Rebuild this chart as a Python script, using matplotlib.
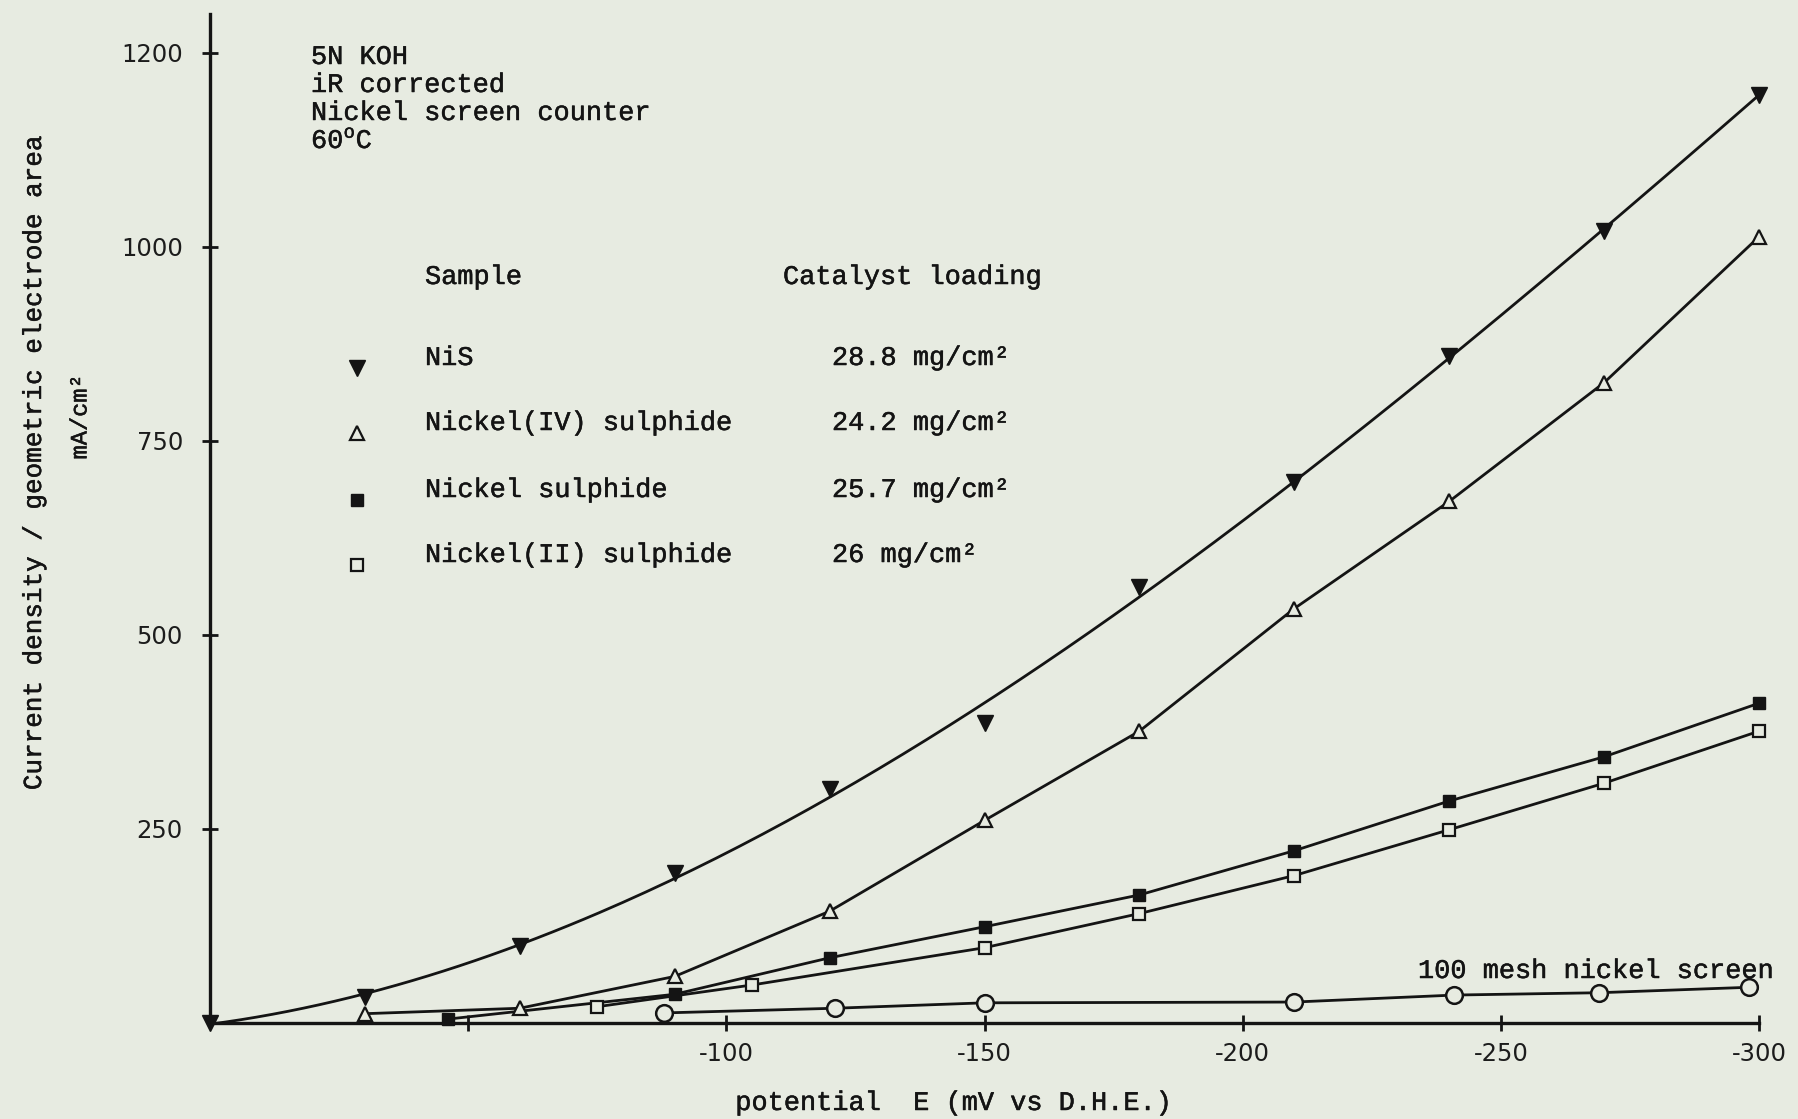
import numpy as np
import matplotlib
matplotlib.use("Agg")
import matplotlib.pyplot as plt
import matplotlib.patheffects as pe

# Current density vs potential, 5N KOH, 60 C
E_NIS = [0, -30, -60, -90, -120, -150, -180, -210, -240, -270, -300]
J_NIS = [0, 34, 99, 193, 301, 387, 562, 697, 859, 1021, 1196]

E_NI4 = [-30, -60, -90, -120, -150, -180, -210, -240, -270, -300]
J_NI4 = [12, 19, 60, 144, 261, 376, 534, 672, 825, 1013]

E_NISULF = [-46, -90, -120, -150, -180, -210, -240, -270, -300]
J_NISULF = [5, 37, 84, 124, 165, 222, 286, 343, 412]

E_NI2 = [-75, -105, -150, -180, -210, -240, -270, -300]
J_NI2 = [21, 49, 97, 141, 190, 249, 309, 376]

E_MESH = [-88, -121, -150, -210, -241, -269, -298]
J_MESH = [13, 19, 26, 27, 36, 39, 46]

samples = ["NiS", "Nickel(IV) sulphide", "Nickel sulphide", "Nickel(II) sulphide"]
loadings = ["28.8 mg/cm\u00b2", "24.2 mg/cm\u00b2", "25.7 mg/cm\u00b2", "26 mg/cm\u00b2"]

x_ticks = [-50, -100, -150, -200, -250, -300]
x_labels = ["", "-100", "-150", "-200", "-250", "-300"]
# the typed "1200" label sits where 1250 would be on the drawn scale
y_ticks = [250, 500, 750, 1000, 1250]
y_labels = ["250", "500", "750", "1000", "1200"]

BG = "#e7ebe1"
INK = "#141414"
MONO = "Liberation Mono"

plt.rcParams["mathtext.fontset"] = "custom"
plt.rcParams["mathtext.rm"] = MONO

W, H = 1798, 1119
TYPE = dict(family=MONO, fontsize=19.4, color=INK,
            path_effects=[pe.withStroke(linewidth=0.35, foreground=INK)])


def fx(x):
    return x / W


def fy(y):
    return 1 - y / H


fig = plt.figure(figsize=(W / 100, H / 100), dpi=100, facecolor=BG)
ax = fig.add_axes([fx(210), fy(1023), (1759 - 210) / W, (1023 - 14) / H])
ax.set_facecolor(BG)

# NiS curve is a smooth hand-drawn fit through the points
coef = np.polyfit(E_NIS, J_NIS, 3)
xs = np.linspace(E_NIS[0], E_NIS[-1], 200)
ax.plot(xs, np.polyval(coef, xs), color=INK, lw=2.0, zorder=2, clip_on=False)

for E, J in [(E_NI4, J_NI4), (E_NISULF, J_NISULF), (E_NI2, J_NI2), (E_MESH, J_MESH)]:
    ax.plot(E, J, color=INK, lw=2.0, zorder=2, clip_on=False)

ax.plot(E_NIS, J_NIS, ls="none", marker="v", ms=11, color=INK, zorder=3, clip_on=False)
ax.plot(E_NI4, J_NI4, ls="none", marker="^", ms=10, mfc=BG, mec=INK, mew=1.6, zorder=3,
        clip_on=False)
ax.plot(E_NISULF, J_NISULF, ls="none", marker="s", ms=9, color=INK, zorder=3, clip_on=False)
ax.plot(E_NI2, J_NI2, ls="none", marker="s", ms=9, mfc=BG, mec=INK, mew=1.6, zorder=3,
        clip_on=False)
ax.plot(E_MESH, J_MESH, ls="none", marker="o", ms=12, mfc=BG, mec=INK, mew=1.8, zorder=3,
        clip_on=False)

ax.set_xlim(0, -300)
ax.set_ylim(0, 1300)
for s in ["top", "right"]:
    ax.spines[s].set_visible(False)
for s in ["left", "bottom"]:
    ax.spines[s].set_linewidth(2.4)
    ax.spines[s].set_color(INK)

ax.set_xticks(x_ticks)
ax.set_xticklabels(x_labels)
ax.set_yticks(y_ticks)
ax.set_yticklabels(y_labels)
ax.tick_params(axis="both", direction="inout", length=11, width=2, color=INK,
               labelsize=17.5, labelcolor="#1c1c1c")
ax.tick_params(axis="y", pad=14)
ax.tick_params(axis="x", pad=8)

# axis titles
fig.text(fx(34), fy(462), "Current density / geometric electrode area", rotation=90,
         ha="center", va="center", **{**TYPE, "fontsize": 18.7})
fig.text(fx(80), fy(417), "mA/cm\u00b2", rotation=90, ha="center", va="center",
         **{**TYPE, "fontsize": 17})
fig.text(fx(953), fy(1103), "potential  E (mV vs D.H.E.)", ha="center", va="center", **TYPE)

# conditions block
cond = ["5N KOH", "iR corrected", "Nickel screen counter", "60$^\\mathrm{o}$C"]
for i, t in enumerate(cond):
    fig.text(fx(311), fy(57 + 28 * i), t, ha="left", va="center", **TYPE)

# key
fig.text(fx(425), fy(277), "Sample", ha="left", va="center", **TYPE)
fig.text(fx(783), fy(277), "Catalyst loading", ha="left", va="center", **TYPE)
key_styles = [
    dict(marker="v", ms=11, color=INK),
    dict(marker="^", ms=10, mfc=BG, mec=INK, mew=1.6),
    dict(marker="s", ms=9, color=INK),
    dict(marker="s", ms=9, mfc=BG, mec=INK, mew=1.6),
]
key_y = [358, 423, 490, 555]
for name, load, y, st in zip(samples, loadings, key_y, key_styles):
    ax.plot([fx(357)], [fy(y + 10)], ls="none", transform=fig.transFigure,
            clip_on=False, **st)
    fig.text(fx(425), fy(y), name, ha="left", va="center", **TYPE)
    fig.text(fx(832), fy(y), load, ha="left", va="center", **TYPE)

fig.text(fx(1418), fy(971), "100 mesh nickel screen", ha="left", va="center", **TYPE)

fig.savefig("out.png", dpi=100, facecolor=BG)
